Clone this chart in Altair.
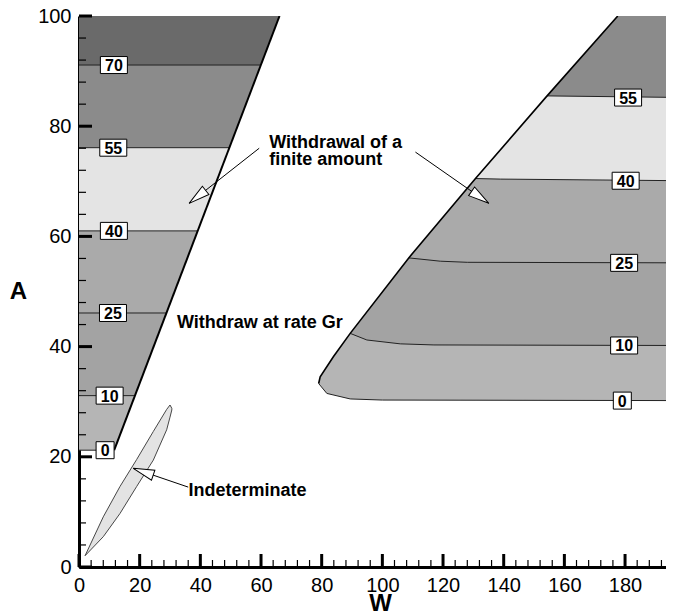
import math
import numpy as np
import pandas as pd
import altair as alt

W_MAX = 193.5
PLOT_W, PLOT_H = 587, 551
FONT = "Liberation Sans"

# ---------------- values ----------------
contour_values = [0, 10, 25, 40, 55, 70]
band_colors = ["#b5b5b5", "#a3a3a3", "#aaaaaa", "#e4e4e4", "#8b8b8b", "#6a6a6a"]

# left wedge: contour levels (A) and its slanted right edge
left_levels_A = [21.2, 31.1, 46.1, 61.0, 76.1, 91.1]
left_edge_W = [11.6, 66.1]
left_edge_A = [21.2, 100.0]
left_label_W = [8.6, 10.1, 11.2, 11.5, 11.3, 11.5]

# right region: upper-left boundary, lower boundary and contour curves
right_upper_W = [79.0, 79.5, 83.9, 89.4, 108.7, 130.7, 154.3, 177.6, 200.0]
right_upper_A = [33.3, 34.5, 38.2, 42.4, 56.1, 70.5, 85.5, 100.0, 100.0]
right_lower_W = [79.0, 81.7, 89.4, 100.0, 200.0]
right_lower_A = [33.3, 31.5, 30.5, 30.3, 30.2]
c10_W = [89.4, 94.9, 105.9, 117.0, 200.0]
c10_A = [42.4, 41.2, 40.5, 40.3, 40.2]
c25_W = [108.7, 119.1, 128.0, 200.0]
c25_A = [56.1, 55.5, 55.3, 55.2]
c40_W = [130.7, 139.0, 200.0]
c40_A = [70.5, 70.4, 70.1]
c55_W = [154.3, 200.0]
c55_A = [85.5, 85.2]
right_label_values = [0, 10, 25, 40, 55]
right_label_W = [179.1, 179.7, 179.7, 180.2, 181.0]
right_label_A = [30.2, 40.2, 55.2, 70.1, 85.2]

# indeterminate lens
lens_W = [2.0, 8.0, 13.5, 19.0, 24.5, 28.9, 30.0, 30.6]
lens_upper = [2.05, 9.1, 14.6, 19.5, 24.6, 28.6, 29.4, 28.8]
lens_lower = [2.05, 5.5, 9.7, 14.6, 19.4, 24.9, 27.2, 28.5]

# annotations
note_text = ["Withdrawal of a", "finite amount", "Withdraw at rate Gr", "Indeterminate"]
note_W = [62.7, 62.7, 32.3, 36.1]
note_A = [76.0, 73.0, 43.4, 12.8]
arrow_start_W = [59.4, 110.9, 36.0]
arrow_start_A = [76.0, 75.3, 14.5]
arrow_tip_W = [36.3, 135.1, 17.9]
arrow_tip_A = [66.0, 66.0, 17.9]

x_major = list(range(0, 181, 20))
x_minor = [v for v in range(0, 194, 4) if v % 20]
y_major = list(range(0, 101, 20))
y_minor = [v for v in range(0, 101, 4) if v % 20]

# ---------------- scales / axes ----------------
xs = alt.Scale(domain=[0, W_MAX], nice=False, zero=False)
ys = alt.Scale(domain=[0, 100], nice=False, zero=False)
common_axis = dict(ticks=False, tickSize=0, grid=False, domainWidth=3, domainColor="black",
                   labelFont=FONT, labelFontSize=20, labelColor="black", labelPadding=8,
                   labelFlush=False, titleFont=FONT, titleFontSize=24, titleFontWeight="bold",
                   titleColor="black")
xaxis = alt.Axis(title="W", values=x_major, titleX=301, titleY=43, titleBaseline="alphabetic",
                 titleAlign="center", **common_axis)
yaxis = alt.Axis(title="A", values=y_major, titleAngle=0, titleX=-61, titleY=275,
                 titleAlign="center", titleBaseline="middle", **common_axis)


def X(f="W"):
    return alt.X(f"{f}:Q", scale=xs, axis=xaxis)


def Y(f="A"):
    return alt.Y(f"{f}:Q", scale=ys, axis=yaxis)


layers = []

# ---------------- left wedge bands ----------------
for i, v in enumerate(contour_values):
    a0 = left_levels_A[i]
    a1 = left_levels_A[i + 1] if i + 1 < len(left_levels_A) else 100.0
    df = pd.DataFrame({"A": [a0, a1],
                       "W": [float(np.interp(a, left_edge_A, left_edge_W)) for a in (a0, a1)],
                       "W0": [0.0, 0.0]})
    layers.append(alt.Chart(df).mark_area(orient="horizontal", color=band_colors[i], clip=True)
                  .encode(y=Y(), x=X(), x2="W0:Q"))

# ---------------- right region bands ----------------
def vband(lw, la):
    grid = sorted(set(lw + [w for w in right_upper_W if w >= lw[0]]))
    return pd.DataFrame({"W": grid,
                         "A": np.interp(grid, lw, la),
                         "A2": np.interp(grid, right_upper_W, right_upper_A)})

right_bands = [(right_lower_W, right_lower_A), (c10_W, c10_A), (c25_W, c25_A),
               (c40_W, c40_A), (c55_W, c55_A)]
for i, (lw, la) in enumerate(right_bands):
    layers.append(alt.Chart(vband(lw, la)).mark_area(color=band_colors[i], clip=True)
                  .encode(x=X(), y=Y(), y2="A2:Q"))

# ---------------- indeterminate lens ----------------
lens_df = pd.DataFrame({"W": lens_W, "A": lens_lower, "A2": lens_upper})
layers.append(alt.Chart(lens_df).mark_area(color="#e3e3e3", stroke="#333333", strokeWidth=0.9)
              .encode(x=X(), y=Y(), y2="A2:Q"))

# ---------------- contour lines ----------------
rows = []
for lv in left_levels_A:
    rows += [{"id": lv, "W": 0.0, "A": lv},
             {"id": lv, "W": float(np.interp(lv, left_edge_A, left_edge_W)), "A": lv}]
left_lines = pd.DataFrame(rows)
layers.append(alt.Chart(left_lines).mark_line(color="#222222", strokeWidth=1, clip=True)
              .encode(x=X(), y=Y(), detail="id:N"))

rows = []
for k, (lw, la) in enumerate(right_bands):
    for w, a in zip(lw, la):
        rows.append({"id": k, "W": w, "A": a})
right_lines = pd.DataFrame(rows)
layers.append(alt.Chart(right_lines).mark_line(color="#222222", strokeWidth=1, clip=True)
              .encode(x=X(), y=Y(), detail="id:N"))

# ---------------- boundaries ----------------
edge_df = pd.DataFrame({"W": left_edge_W, "A": left_edge_A})
layers.append(alt.Chart(edge_df).mark_line(color="black", strokeWidth=2, clip=True)
              .encode(x=X(), y=Y()))
up_df = pd.DataFrame({"W": right_upper_W[:-1], "A": right_upper_A[:-1]})
layers.append(alt.Chart(up_df).mark_line(color="black", strokeWidth=1.6, clip=True)
              .encode(x=X(), y=Y()))

# ---------------- contour labels ----------------
lab_df = pd.DataFrame({
    "W": left_label_W + right_label_W,
    "A": left_levels_A + right_label_A,
    "txt": [str(v) for v in contour_values] + [str(v) for v in right_label_values],
})
lab_df["W2"] = lab_df["W"]
lab_df["A2"] = lab_df["A"]
lab_df["n"] = lab_df["txt"].str.len()
for n, half in ((1, 9), (2, 13.5)):
    layers.append(alt.Chart(lab_df).transform_filter(f"datum.n == {n}")
                  .mark_rect(fill="white", stroke="black", strokeWidth=1,
                             xOffset=-half, x2Offset=half, yOffset=-8.5, y2Offset=8.5)
                  .encode(x=X(), x2="W2:Q", y=Y(), y2="A2:Q"))
layers.append(alt.Chart(lab_df).mark_text(font=FONT, fontSize=16, fontWeight="bold",
                                          color="black", align="center", baseline="middle", dy=1)
              .encode(x=X(), y=Y(), text="txt:N"))

# ---------------- annotations ----------------
note_df = pd.DataFrame({"W": note_W, "A": note_A, "txt": note_text})
layers.append(alt.Chart(note_df).mark_text(font=FONT, fontSize=18, fontWeight="bold",
                                           color="black", align="left", baseline="alphabetic")
              .encode(x=X(), y=Y(), text="txt:N"))

pxW = PLOT_W / W_MAX
pxA = PLOT_H / 100.0
HL = 21.0
rows, heads = [], []
for k in range(len(arrow_tip_W)):
    sw, sa, tw, ta = arrow_start_W[k], arrow_start_A[k], arrow_tip_W[k], arrow_tip_A[k]
    rows += [{"id": k, "W": sw, "A": sa}, {"id": k, "W": tw, "A": ta}]
    dx = (tw - sw) * pxW
    dy = -(ta - sa) * pxA
    L = math.hypot(dx, dy)
    ux, uy = dx / L, dy / L
    heads.append({"W": tw - ux * HL / 2 / pxW, "A": ta + uy * HL / 2 / pxA,
                  "ang": math.degrees(math.atan2(ux, -uy)) % 360})
shaft_df = pd.DataFrame(rows)
head_df = pd.DataFrame(heads)
layers.append(alt.Chart(shaft_df).mark_line(color="black", strokeWidth=1)
              .encode(x=X(), y=Y(), detail="id:N"))
layers.append(alt.Chart(head_df).mark_point(shape="M0,-1L0.5,1L-0.5,1Z", size=HL * HL,
                                            filled=True, fill="white", stroke="black",
                                            strokeWidth=1, opacity=1)
              .encode(x=X(), y=Y(), angle=alt.Angle("ang:Q", scale=None)))

# ---------------- inward ticks ----------------
def tick_rules_x(vals, length, width):
    return (alt.Chart(pd.DataFrame({"W": vals})).mark_rule(color="black", strokeWidth=width)
            .encode(x=X(), y=alt.value(PLOT_H), y2=alt.value(PLOT_H - length)))


def tick_rules_y(vals, length, width):
    return (alt.Chart(pd.DataFrame({"A": vals})).mark_rule(color="black", strokeWidth=width)
            .encode(y=Y(), x=alt.value(0), x2=alt.value(length)))


layers += [tick_rules_x(x_minor, 7, 1.2), tick_rules_x(x_major, 13, 3),
           tick_rules_y(y_minor, 7, 1.2), tick_rules_y(y_major, 13, 3)]

chart = (alt.layer(*layers)
         .properties(width=PLOT_W, height=PLOT_H,
                     padding={"left": 71, "top": 8, "right": 0, "bottom": 47},
                     autosize=alt.AutoSizeParams(type="none"),
                     background="white")
         .configure_view(strokeWidth=0))

chart.save("out.html", embed_options={"renderer": "svg", "actions": False})
